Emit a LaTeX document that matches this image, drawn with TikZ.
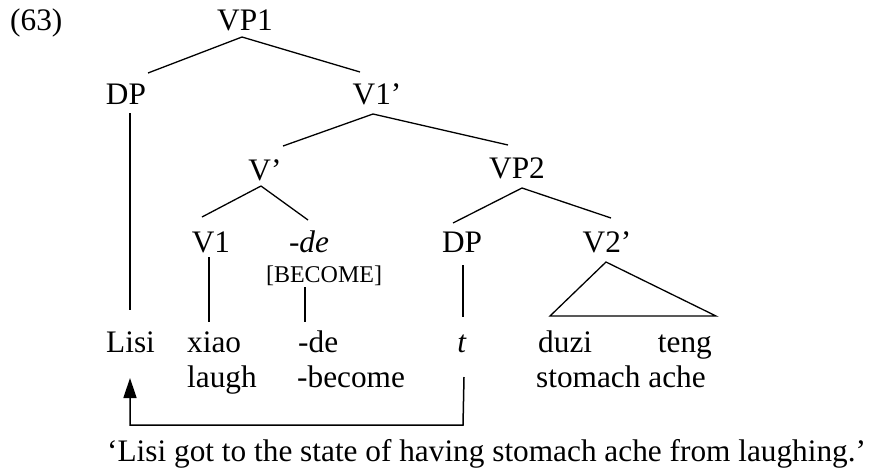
\documentclass[tikz,border=0pt]{standalone}
\usepackage{fontspec}
\setmainfont{Liberation Serif}
\usetikzlibrary{arrows.meta}
\begin{document}
\begin{tikzpicture}[x=1pt,y=-1pt,
  lbl/.style={anchor=base,inner sep=0pt,font=\fontsize{31.3}{37}\selectfont},
  wl/.style={anchor=base west,inner sep=0pt,font=\fontsize{31.3}{37}\selectfont},
  we/.style={anchor=base east,inner sep=0pt,font=\fontsize{31.3}{37}\selectfont},
  feat/.style={anchor=base,inner sep=0pt,font=\fontsize{24}{28}\selectfont},
  br/.style={line width=1.3pt},
  mv/.style={line width=1.5pt,-{Triangle[length=20pt,width=13pt]}}]
\useasboundingbox (0,0) rectangle (880,472);
% labels
\node[wl] (ex) at (10,30) {(63)};
\node[lbl] (vp1) at (245,30) {VP1};
\node[lbl] (dp1) at (126,104) {DP};
\node[lbl] (v1p) at (377,104) {V1’};
\node[lbl] (vb) at (265,180) {V’};
\node[lbl] (vp2) at (517,178) {VP2};
\node[lbl] (v1) at (211,252) {V1};
\node[lbl] (de) at (309,252) {-\textit{de}};
\node[feat] (become) at (324,282) {[BECOME]};
\node[lbl] (dp2) at (462,252) {DP};
\node[lbl] (v2p) at (607,252) {V2’};
% words
\node[wl] (lisi) at (106,352) {Lisi};
\node[wl] (xiao) at (187,352) {xiao};
\node[wl] (deword) at (298,352) {-de};
\node[lbl] (t) at (462,352) {\textit{t}};
\node[wl] (duzi) at (538,352) {duzi};
\node[we] (teng) at (712,352) {teng};
\node[wl] (laugh) at (187,387) {laugh};
\node[wl] (becomew) at (297,387) {-become};
\node[wl] (stom) at (536,387) {stomach ache};
\node[wl] (trans) at (107,461) {‘Lisi got to the state of having stomach ache from laughing.’};
% joints
\coordinate (vp1-b) at (242,37);
\coordinate (dp1-t) at (148,73);
\coordinate (v1p-t) at (360,72);
\coordinate (dp1-b) at (130,113);
\coordinate (lisi-t) at (130,310);
\coordinate (v1p-b) at (373,114);
\coordinate (vb-t) at (283,146);
\coordinate (vp2-t) at (508,145);
\coordinate (vb-b) at (261,186);
\coordinate (v1-t) at (202,217);
\coordinate (de-t) at (308,220);
\coordinate (vp2-b) at (522,188);
\coordinate (dp2-t) at (453,223);
\coordinate (v2p-t) at (611,218);
\coordinate (v1-b) at (209,257);
\coordinate (xiao-t) at (209,322);
\coordinate (become-b) at (305,287);
\coordinate (deword-t) at (305,322);
\coordinate (dp2-b) at (463,265);
\coordinate (t-t) at (463,317);
\coordinate (v2p-b) at (606,262);
\coordinate (tri-l) at (550,316);
\coordinate (tri-r) at (716,316);
\coordinate (t-b) at (464,377);
\coordinate (lisi-b) at (130,378);
% branches
\draw[br] (vp1-b) -- (dp1-t);
\draw[br] (vp1-b) -- (v1p-t);
\draw[br] (dp1-b) -- (lisi-t);
\draw[br] (v1p-b) -- (vb-t);
\draw[br] (v1p-b) -- (vp2-t);
\draw[br] (vb-b) -- (v1-t);
\draw[br] (vb-b) -- (de-t);
\draw[br] (vp2-b) -- (dp2-t);
\draw[br] (vp2-b) -- (v2p-t);
\draw[br] (v1-b) -- (xiao-t);
\draw[br] (become-b) -- (deword-t);
\draw[br] (dp2-b) -- (t-t);
\draw[br,line join=miter] (v2p-b) -- (tri-r) -- (tri-l) -- cycle;
% movement arrow
\draw[mv] (t-b) -- (463,425) -| (lisi-b);
\end{tikzpicture}
\end{document}
